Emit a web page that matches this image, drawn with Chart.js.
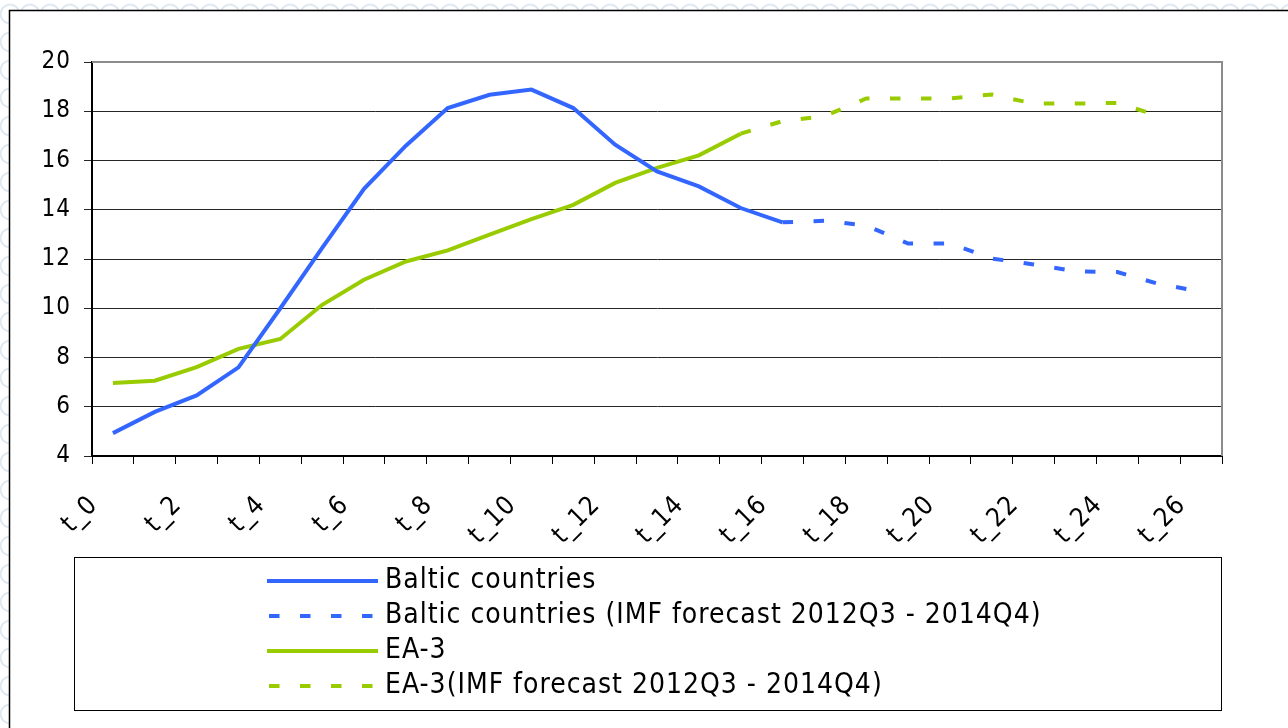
<!DOCTYPE html>
<html>
<head>
<meta charset="utf-8">
<title>Baltic countries vs EA-3</title>
<script src="https://cdn.jsdelivr.net/npm/chart.js@4.4.1/dist/chart.umd.min.js"></script>
<style>
	html, body { margin: 0; padding: 0; }
	body {
		width: 1288px; height: 728px; overflow: hidden;
		background-color: #fff;
		background-image: radial-gradient(circle at 50% 50%, transparent 8px, #d3e0ec 9px, transparent 11px);
		background-size: 20px 28px;
	}
	#wrap { position: absolute; left: 0; top: 0; width: 1288px; height: 728px; }
</style>
</head>
<body>
<div id="wrap"><canvas id="chart"></canvas></div>
<script>
// categories t_0 ... t_26
const periods = ['t_0','t_1','t_2','t_3','t_4','t_5','t_6','t_7','t_8','t_9','t_10','t_11','t_12','t_13',
	't_14','t_15','t_16','t_17','t_18','t_19','t_20','t_21','t_22','t_23','t_24','t_25','t_26'];

// series values
const baltic = [4.93, 5.79, 6.46, 7.60, 10.0, 12.45, 14.85, 16.6, 18.13, 18.67, 18.88, 18.13, 16.64,
	15.56, 14.95, 14.07, 13.49, null, null, null, null, null, null, null, null, null, null];
const balticForecast = [null, null, null, null, null, null, null, null, null, null, null, null, null,
	null, null, null, 13.49, 13.55, 13.36, 12.63, 12.63, 12.02, 11.78, 11.50, 11.47, 10.98, 10.68];
const ea3 = [6.96, 7.06, 7.61, 8.35, 8.75, 10.14, 11.16, 11.90, 12.35, 12.99, 13.62, 14.20, 15.09,
	15.70, 16.21, 17.09, null, null, null, null, null, null, null, null, null, null, null];
const ea3Forecast = [null, null, null, null, null, null, null, null, null, null, null, null, null,
	null, null, 17.09, 17.60, 17.80, 18.52, 18.52, 18.52, 18.68, 18.31, 18.31, 18.34, 17.80, null];

const yTicks = { min: 4, max: 20, step: 2 };

const BLUE = '#3366ff';
const GREEN = '#99cc00';
const DASH = [10.5, 20.5];
const FONT = "'DejaVu Sans Condensed', 'DejaVu Sans', sans-serif";
const SPACING = '1px'; // the exported chart has loosely spaced letters

Chart.defaults.font.family = FONT;
Chart.defaults.color = '#000';

// white sheet with black frame on left/top, like the pasted chart object
const framePlugin = {
	id: 'frame',
	beforeLayout(chart) {
		chart.ctx.letterSpacing = SPACING;
	},
	beforeDraw(chart) {
		const ctx = chart.ctx;
		ctx.letterSpacing = SPACING;
		ctx.save();
		ctx.fillStyle = '#fff';
		ctx.fillRect(10, 11, chart.width - 10, chart.height - 11);
		ctx.strokeStyle = '#000';
		ctx.lineWidth = 1.5;
		ctx.beginPath();
		ctx.moveTo(9.5, chart.height);
		ctx.lineTo(9.5, 10.5);
		ctx.lineTo(chart.width, 10.5);
		ctx.stroke();
		ctx.restore();
	},
	// grey plot-area border on top and right
	beforeDatasetsDraw(chart) {
		const a = chart.chartArea;
		const ctx = chart.ctx;
		ctx.save();
		ctx.strokeStyle = '#8c8c8c';
		ctx.lineWidth = 2;
		ctx.beginPath();
		ctx.moveTo(a.left, a.top);
		ctx.lineTo(a.right, a.top);
		ctx.lineTo(a.right, a.bottom);
		ctx.stroke();
		ctx.restore();
	}
};

// boxed legend, one entry per row, under the plot
const boxLegend = {
	id: 'boxLegend',
	afterDraw(chart, args, opts) {
		const ctx = chart.ctx;
		ctx.save();
		ctx.strokeStyle = '#000';
		ctx.lineWidth = 1;
		ctx.strokeRect(opts.box.x + 0.5, opts.box.y + 0.5, opts.box.w, opts.box.h);
		ctx.font = opts.fontSize + 'px ' + FONT;
		ctx.letterSpacing = SPACING;
		ctx.textBaseline = 'middle';
		ctx.fillStyle = '#000';
		chart.data.datasets.forEach((ds, i) => {
			const y = opts.firstRow + i * opts.rowGap;
			ctx.strokeStyle = ds.borderColor;
			ctx.lineWidth = 4;
			ctx.setLineDash(ds.borderDash || []);
			ctx.beginPath();
			ctx.moveTo(ds.borderDash ? opts.lineFrom + 2 : opts.lineFrom, y);
			ctx.lineTo(opts.lineTo, y);
			ctx.stroke();
			ctx.setLineDash([]);
			ctx.fillText(ds.label, opts.textX, y);
		});
		ctx.restore();
	}
};

new Chart(document.getElementById('chart'), {
	type: 'line',
	data: {
		labels: periods,
		datasets: [
			{ label: 'Baltic countries', data: baltic, borderColor: BLUE },
			{ label: 'Baltic countries (IMF forecast 2012Q3 - 2014Q4)', data: balticForecast,
				borderColor: BLUE, borderDash: DASH },
			{ label: 'EA-3', data: ea3, borderColor: GREEN },
			{ label: 'EA-3(IMF forecast 2012Q3 - 2014Q4)', data: ea3Forecast,
				borderColor: GREEN, borderDash: DASH }
		]
	},
	options: {
		responsive: true,
		maintainAspectRatio: false,
		devicePixelRatio: 1,
		animation: false,
		layout: { padding: { left: 0, top: 62, right: 66, bottom: 0 } },
		elements: {
			point: { radius: 0 },
			line: { borderWidth: 4, tension: 0, fill: false, borderCapStyle: 'butt' }
		},
		plugins: {
			legend: { display: false },
			tooltip: { enabled: false },
			boxLegend: {
				box: { x: 74, y: 557, w: 1147, h: 153 },
				firstRow: 581, rowGap: 35,
				lineFrom: 267, lineTo: 378, textX: 385,
				fontSize: 28
			}
		},
		scales: {
			x: {
				offset: true,
				afterFit(scale) { scale.height = 272; },
				grid: {
					offset: true, drawOnChartArea: false, drawTicks: true,
					tickLength: 8, color: '#000', lineWidth: 1
				},
				border: { display: true, color: '#000', width: 2 },
				ticks: {
					autoSkip: false, maxRotation: 45, minRotation: 45,
					padding: 26, labelOffset: -19, font: { size: 26 },
					callback(value, index) {
						return index % 2 === 0 ? this.getLabelForValue(value) : '';
					}
				}
			},
			y: {
				min: yTicks.min, max: yTicks.max,
				afterFit(scale) { scale.width = 92; },
				grid: { color: '#262626', lineWidth: 1, tickLength: 8, drawTicks: true },
				border: { display: true, color: '#000', width: 2 },
				ticks: { stepSize: yTicks.step, padding: 13, font: { size: 24 } }
			}
		}
	},
	plugins: [framePlugin, boxLegend]
});
</script>
</body>
</html>
